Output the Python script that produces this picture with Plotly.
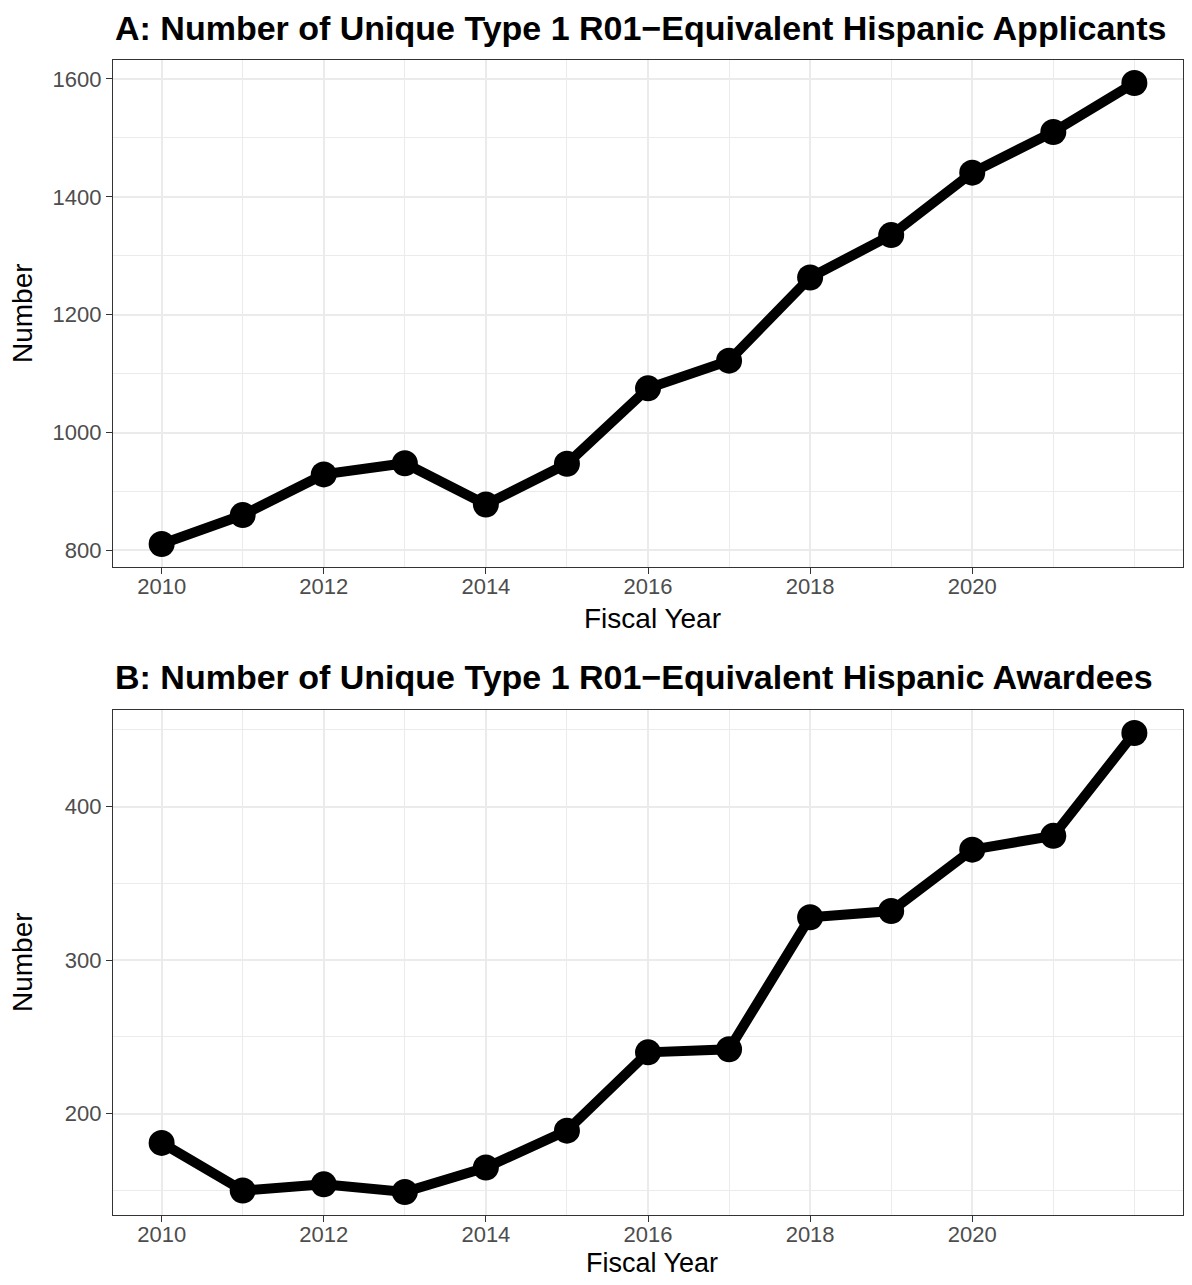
import plotly.graph_objects as go

years = [2010, 2011, 2012, 2013, 2014, 2015, 2016, 2017, 2018, 2019, 2020, 2021, 2022]
applicants = [811, 860, 929, 948, 878, 947, 1075, 1122, 1263, 1335, 1441, 1510, 1593]
awardees = [181, 150, 154, 149, 165, 189, 240, 242, 328, 332, 372, 381, 448]

title_a = "A: Number of Unique Type 1 R01\u2212Equivalent Hispanic Applicants"
title_b = "B: Number of Unique Type 1 R01\u2212Equivalent Hispanic Awardees"
x_ticks = [2010, 2012, 2014, 2016, 2018, 2020]
y_ticks_a = [800, 1000, 1200, 1400, 1600]
y_ticks_b = [200, 300, 400]

# the page body has an 8px margin; figure is placed at (8, 8)
OFF = 8
W, H = 1176, 1269
FONT = "Liberation Sans, Arial, Helvetica, sans-serif"

def px_x(p):
    return (p - OFF) / W

def px_y(p):
    return 1 - (p - OFF) / H

def expand(vals, frac=0.05):
    lo, hi = min(vals), max(vals)
    s = hi - lo
    return [lo - frac * s, hi + frac * s]

fig = go.Figure()
for vals, xa, ya in [(applicants, "x", "y"), (awardees, "x2", "y2")]:
    fig.add_trace(go.Scatter(
        x=years, y=vals, xaxis=xa, yaxis=ya, mode="lines+markers",
        line=dict(color="black", width=10),
        marker=dict(color="black", size=26),
        showlegend=False, hoverinfo="x+y",
    ))

xr = expand(years)
common_x = dict(
    range=xr, tickvals=x_ticks, ticktext=[str(t) for t in x_ticks],
    ticks="outside", ticklen=6, tickwidth=1.3, tickcolor="#333333",
    ticklabelstandoff=-7,
    tickfont=dict(family=FONT, size=22, color="#4D4D4D"),
    showgrid=True, gridcolor="#EBEBEB", gridwidth=1.8,
    minor=dict(dtick=1, tick0=2010, showgrid=True, gridcolor="#EBEBEB", gridwidth=0.9),
    showline=True, linecolor="#333333", linewidth=1.3, mirror=True,
    zeroline=False,
)
common_y = dict(
    ticks="outside", ticklen=6, tickwidth=1.3, tickcolor="#333333",
    tickfont=dict(family=FONT, size=22, color="#4D4D4D"),
    showgrid=True, gridcolor="#EBEBEB", gridwidth=1.8,
    showline=True, linecolor="#333333", linewidth=1.3, mirror=True,
    zeroline=False,
)

xd = [px_x(113), px_x(1183)]
fig.update_layout(
    width=W, height=H,
    margin=dict(l=0, r=0, t=0, b=0),
    paper_bgcolor="white", plot_bgcolor="white",
    xaxis=dict(domain=xd, anchor="y", **common_x),
    yaxis=dict(domain=[px_y(567), px_y(60)], anchor="x", range=expand(applicants),
               tickvals=y_ticks_a, ticktext=[str(t) for t in y_ticks_a],
               minor=dict(dtick=100, tick0=900, showgrid=True, gridcolor="#EBEBEB", gridwidth=0.9),
               **common_y),
    xaxis2=dict(domain=xd, anchor="y2", **common_x),
    yaxis2=dict(domain=[px_y(1215), px_y(710)], anchor="x2", range=expand(awardees),
                tickvals=y_ticks_b, ticktext=[str(t) for t in y_ticks_b],
                minor=dict(dtick=50, tick0=150, showgrid=True, gridcolor="#EBEBEB", gridwidth=0.9),
                **common_y),
)

anns = [
    dict(text="<b>" + title_a + "</b>", x=px_x(113), y=px_y(28), xanchor="left", yanchor="middle",
         font=dict(family=FONT, size=34, color="black")),
    dict(text="<b>" + title_b + "</b>", x=px_x(113), y=px_y(677), xanchor="left", yanchor="middle",
         font=dict(family=FONT, size=34, color="black")),
    dict(text="Fiscal Year", x=px_x(652), y=px_y(618), xanchor="center", yanchor="middle",
         font=dict(family=FONT, size=28, color="black")),
    dict(text="Fiscal Year", x=px_x(652), y=px_y(1263), xanchor="center", yanchor="middle",
         font=dict(family=FONT, size=27, color="black")),
    dict(text="Number", x=px_x(22), y=px_y(313), xanchor="center", yanchor="middle", textangle=-90,
         font=dict(family=FONT, size=28, color="black")),
    dict(text="Number", x=px_x(22), y=px_y(962), xanchor="center", yanchor="middle", textangle=-90,
         font=dict(family=FONT, size=28, color="black")),
]
for a in anns:
    a.update(xref="paper", yref="paper", showarrow=False)
fig.update_layout(annotations=anns)

fig.write_html("out.html")
